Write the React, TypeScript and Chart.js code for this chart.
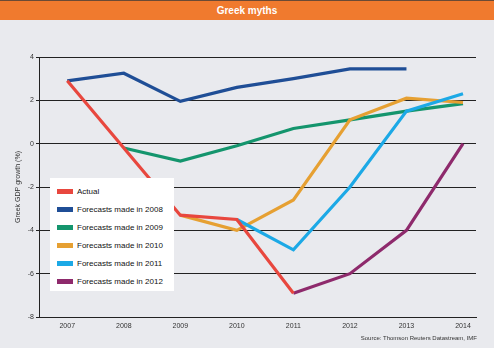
import React, { useEffect, useRef } from "react";
import { Chart, registerables } from "chart.js";

Chart.register(...registerables);

const title = "Greek myths";
const yAxisTitle = "Greek GDP growth (%)";
const source = "Source: Thomson Reuters Datastream, IMF";

const years = [2007, 2008, 2009, 2010, 2011, 2012, 2013, 2014];
const yTicks = [4, 2, 0, -2, -4, -6, -8];

const actual = [2.9, -0.2, -3.3, -3.5, -6.9, null, null, null];
const f2008 = [2.9, 3.25, 1.95, 2.6, 3.0, 3.45, 3.45, null];
const f2009 = [null, -0.2, -0.8, -0.1, 0.7, 1.1, 1.5, 1.85];
const f2010 = [null, null, -3.3, -4.0, -2.6, 1.1, 2.1, 1.9];
const f2011 = [null, null, null, -3.5, -4.9, -2.0, 1.5, 2.3];
const f2012 = [null, null, null, null, -6.9, -6.0, -4.0, 0.0];

const seriesNames = [
  "Actual",
  "Forecasts made in 2008",
  "Forecasts made in 2009",
  "Forecasts made in 2010",
  "Forecasts made in 2011",
  "Forecasts made in 2012",
];
const seriesValues = [actual, f2008, f2009, f2010, f2011, f2012];
const seriesColors = ["#E8473E", "#1F4E96", "#14956D", "#E6A032", "#1CA9E6", "#8E2A6C"];
const seriesOrder = [0, 5, 4, 3, 2, 1];

const FONT = "'Liberation Sans', Arial, sans-serif";

export default function App() {
  const ref = useRef<HTMLCanvasElement | null>(null);

  useEffect(() => {
    document.body.style.margin = "0";
    const canvas = ref.current;
    if (!canvas) return;
    const datasets = seriesNames.map((name, i) => ({
      label: name,
      data: years
        .map((yr, j) => ({ x: yr, y: seriesValues[i][j] }))
        .filter((p) => p.y !== null),
      borderColor: seriesColors[i],
      backgroundColor: seriesColors[i],
      borderWidth: 3.2,
      pointRadius: 0,
      tension: 0,
      borderJoinStyle: "miter" as const,
      order: seriesOrder[i],
      fill: false,
    }));
    const chart = new Chart(canvas, {
      type: "line",
      data: { datasets },
      options: {
        animation: false,
        responsive: false,
        maintainAspectRatio: false,
        layout: { padding: { left: 14, top: 57, right: 18, bottom: 0 } },
        plugins: { legend: { display: false }, tooltip: { enabled: false } },
        scales: {
          x: {
            type: "linear",
            min: 2006.5,
            max: 2014.23,
            afterBuildTicks: (s: any) => {
              s.ticks = years.map((v) => ({ value: v }));
            },
            afterFit: (s: any) => {
              s.height = 31;
            },
            grid: { display: false, drawTicks: false },
            border: { display: true, color: "#222", width: 1 },
            ticks: {
              padding: 5,
              color: "#333",
              font: { family: FONT, size: 7 },
              callback: (v: any) => String(v),
              maxRotation: 0,
              autoSkip: false,
            },
          },
          y: {
            type: "linear",
            min: -8,
            max: 4,
            afterBuildTicks: (s: any) => {
              s.ticks = yTicks.map((v) => ({ value: v }));
            },
            afterFit: (s: any) => {
              s.width = 25;
            },
            grid: { color: "#222", lineWidth: 1, tickLength: 3, drawTicks: true },
            border: { display: true, color: "#222", width: 1 },
            ticks: {
              padding: 2,
              color: "#333",
              font: { family: FONT, size: 7 },
              callback: (v: any) => String(v),
            },
            title: {
              display: true,
              text: yAxisTitle,
              color: "#333",
              font: { family: FONT, size: 7 },
              padding: { top: 0, bottom: 0 },
            },
          },
        },
      },
    });
    return () => chart.destroy();
  }, []);

  return (
    <div
      style={{
        position: "absolute",
        left: 0,
        top: 0,
        width: 494,
        height: 348,
        background: "#E9EAEE",
        overflow: "hidden",
        fontFamily: FONT,
      }}
    >
      <canvas ref={ref} width={494} height={348} style={{ position: "absolute", left: 0, top: 0 }} />
      <div
        style={{
          position: "absolute",
          left: 0,
          top: 0,
          width: 494,
          height: 20,
          background: "#F07A2E",
          borderTop: "1px solid #6b4a35",
          boxSizing: "border-box",
          color: "#fff",
          fontWeight: "bold",
          fontSize: 10,
          lineHeight: "19px",
          textAlign: "center",
        }}
      >
        {title}
      </div>
      <div
        style={{
          position: "absolute",
          left: 50,
          top: 178,
          width: 124,
          height: 113,
          background: "#fff",
        }}
      >
        {seriesNames.map((name, i) => (
          <div
            key={name}
            style={{
              position: "absolute",
              left: 7,
              top: 7 + i * 18,
              height: 12,
              display: "flex",
              alignItems: "center",
              whiteSpace: "nowrap",
            }}
          >
            <span
              style={{
                display: "inline-block",
                width: 16,
                height: 5,
                background: seriesColors[i],
                marginRight: 4,
              }}
            />
            <span style={{ fontSize: 8, color: "#111" }}>{name}</span>
          </div>
        ))}
      </div>
      <div
        style={{
          position: "absolute",
          right: 17,
          top: 335,
          fontSize: 6,
          color: "#333",
          whiteSpace: "nowrap",
        }}
      >
        {source}
      </div>
    </div>
  );
}
